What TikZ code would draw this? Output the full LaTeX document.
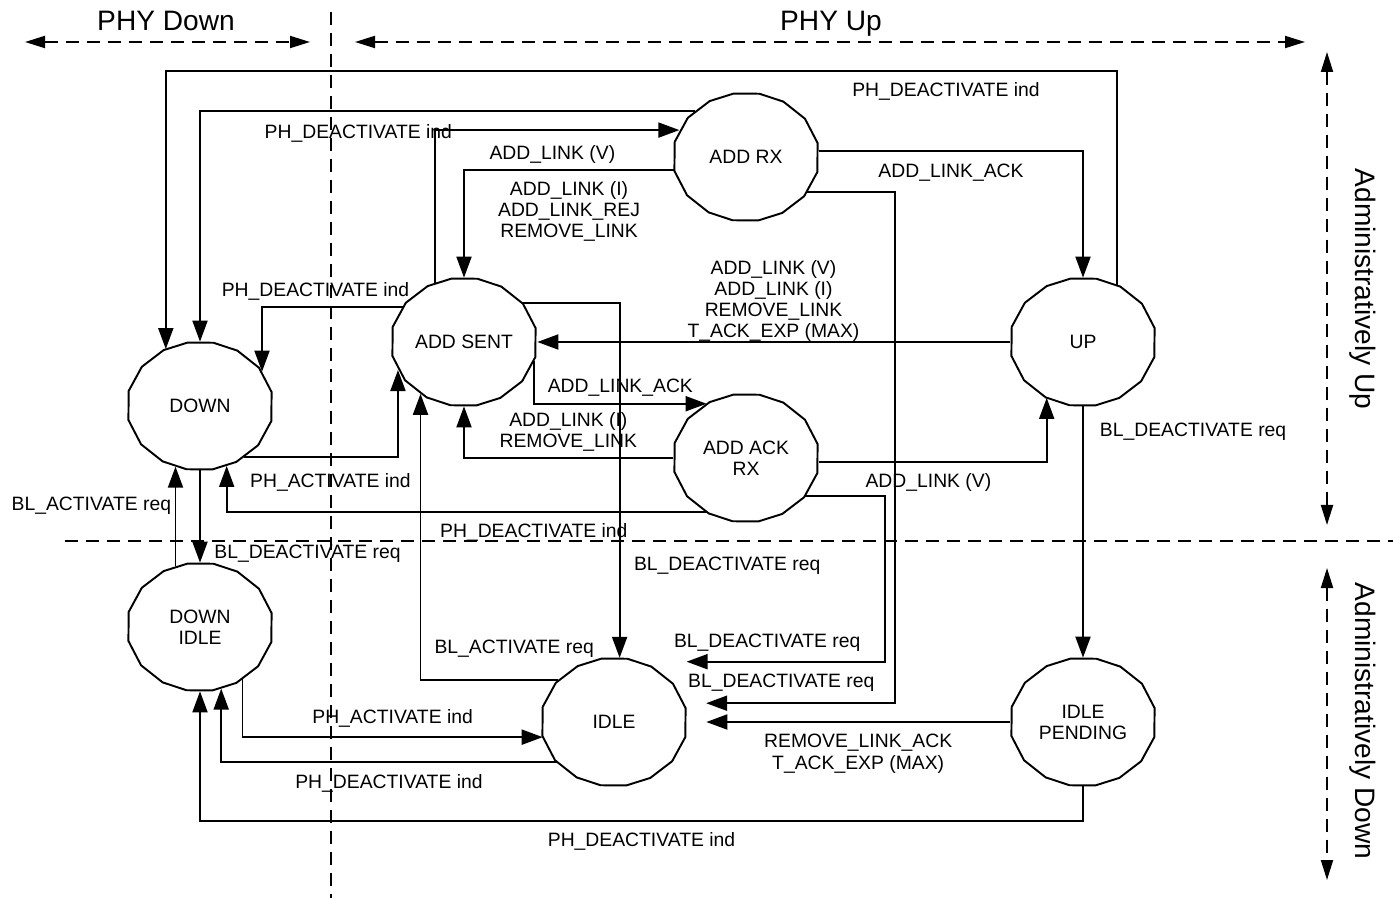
\documentclass[tikz,border=0pt]{standalone}
\usepackage{fontspec}
\setmainfont{Liberation Sans}
\usetikzlibrary{arrows.meta,shapes.geometric}

\begin{document}
\begin{tikzpicture}[
  x=0.2mm,y=-0.2mm,
  state/.style={ellipse,minimum width=29.2mm,minimum height=25.6mm,inner sep=0pt,align=center,font=\fontsize{11}{12}\selectfont},
  trans/.style={-{Triangle[length=4.2mm,width=3mm]},line width=1.1pt},
  lbl/.style={font=\fontsize{11}{12}\selectfont,align=center,inner sep=2pt},
  zone/.style={line width=1.1pt,dash pattern=on 2.6mm off 1.6mm},
  span/.style={zone,{Triangle[length=4mm,width=2.4mm]}-{Triangle[length=4mm,width=2.4mm]}},
  head/.style={font=\fontsize{16}{19}\selectfont}
]
  \useasboundingbox (0,0) rectangle (1393,898);

  % states
  \node[state] (down) at (200,406) {DOWN};
  \node[state] (addsent) at (464,342) {ADD SENT};
  \node[state] (addrx) at (746,157) {ADD RX};
  \node[state] (up) at (1083,342) {UP};
  \node[state] (addackrx) at (746,458) {ADD ACK\\RX};
  \node[state] (downidle) at (200,627) {DOWN\\IDLE};
  \node[state] (idle) at (614,722) {IDLE};
  \node[state] (idlepend) at (1083,722) {IDLE\\PENDING};
  % 16-sided outline of each state
  \foreach \n in {down,addsent,addrx,up,addackrx,downidle,idle,idlepend}
    \draw[line width=1.1pt] (\n.11.25) foreach \a in {33.75,56.25,...,348.75} { -- (\n.\a) } -- cycle;

  % zones
  \draw[zone] (331,12) -- (331,898);
  \draw[zone] (65,541) -- (1393,541);
  \draw[span] (25,42) -- (310,42);
  \draw[span] (355,42) -- (1305,42);
  \draw[span] (1327,52) -- (1327,525);
  \draw[span] (1327,568) -- (1327,880);
  \node[head,anchor=base] (phydown) at (166,31) {PHY Down};
  \node[head,anchor=base] (phyup) at (831,31) {PHY Up};
  \node[head,anchor=base,rotate=-90] (admup) at (1355,289) {Administratively Up};
  \node[head,anchor=base,rotate=-90] (admdown) at (1355,721) {Administratively Down};

  % transitions
  \draw[trans] (up.59) -- ++(0,-214) -| node[lbl,pos=.09,below=1.4mm] (t1) {PH\_DEACTIVATE ind} (down.121);
  \draw[trans] (addrx.138) -| node[lbl,pos=.34,below=1.8mm] (t2) {PH\_DEACTIVATE ind} (down.north);
  \draw[trans] (addsent.116) |- node[lbl,pos=.74,below=2.2mm] (t3) {ADD\_LINK (V)} (addrx.158);
  \draw[trans] (addrx.190) -| node[lbl,pos=.25,below=1.4mm] (t4) {ADD\_LINK (I)\\ADD\_LINK\_REJ\\REMOVE\_LINK} (addsent.north);
  \draw[trans] (addrx.5) -| node[lbl,pos=.25,below=1.8mm] (t5) {ADD\_LINK\_ACK} (up.north);
  \draw[trans,shorten >=4.4mm] (addrx.-30) -- ++(88,0) |- node[lbl,pos=.77,above=1.4mm] (t6) {BL\_DEACTIVATE req} (idle.15);
  \draw[trans,shorten >=9.4mm] (addackrx.-33) -- ++(80,0) |- node[lbl,pos=.74,above=1.2mm] (t7) {BL\_DEACTIVATE req} (idle.67);
  \draw[trans] (addsent.34) -| node[lbl,pos=.87,right=2mm] (t8) {BL\_DEACTIVATE req} (idle.85);
  \draw[trans] (up.west) -- node[lbl,midway,above=-.8mm] (t9) {ADD\_LINK (V)\\ADD\_LINK (I)\\REMOVE\_LINK\\T\_ACK\_EXP (MAX)} (addsent.east);
  \draw[trans] (addsent.-15) |- node[lbl,pos=.75,above=.5mm] (t10) {ADD\_LINK\_ACK} (addackrx.126);
  \draw[trans] (addackrx.west) -| node[lbl,pos=.25,above=.4mm] (t11) {ADD\_LINK (I)\\REMOVE\_LINK} (addsent.south);
  \draw[trans] (addackrx.-3) -| node[lbl,pos=.24,below=1.4mm] (t12) {ADD\_LINK (V)} (up.-123);
  \draw[trans] (addsent.150) -| node[lbl,pos=.31,above=.4mm] (t13) {PH\_DEACTIVATE ind} (down.29);
  \draw[trans] (down.-49) -| node[lbl,pos=.28,below=2.4mm] (t14) {PH\_ACTIVATE ind} (addsent.-157);
  \draw[trans] (addackrx.-126) -| node[lbl,pos=.18,below=1.4mm] (t15) {PH\_DEACTIVATE ind} (down.-66);
  \draw[trans] (downidle.112) -- node[lbl,pos=.61,left] (t16) {BL\_ACTIVATE req} (down.-112);
  \draw[trans] (down.south) -- node[lbl,pos=.9,right=2mm] (t17) {BL\_DEACTIVATE req} (downidle.north);
  \draw[trans] (up.south) -- node[lbl,pos=.1,right=2.5mm] (t18) {BL\_DEACTIVATE req} (idlepend.north);
  \draw[trans,shorten >=3.8mm] (idlepend.west) -- node[lbl,pos=.47,below=1.6mm] (t19) {REMOVE\_LINK\_ACK\\T\_ACK\_EXP (MAX)} (idle.east);
  \draw[trans] (idle.143) -| node[lbl,pos=.16,above=3.6mm] (t20) {BL\_ACTIVATE req} (addsent.-130);
  \draw[trans] (downidle.-51) |- node[lbl,pos=.75,above=1mm] (t21) {PH\_ACTIVATE ind} (idle.192);
  \draw[trans] (idle.-145) -| node[lbl,pos=.25,below=1.6mm] (t22) {PH\_DEACTIVATE ind} (downidle.-71);
  \draw[trans] (idlepend.south) -- ++(0,35) -| node[lbl,pos=.25,below=1.4mm] (t23) {PH\_DEACTIVATE ind} (downidle.south);
\end{tikzpicture}
\end{document}
